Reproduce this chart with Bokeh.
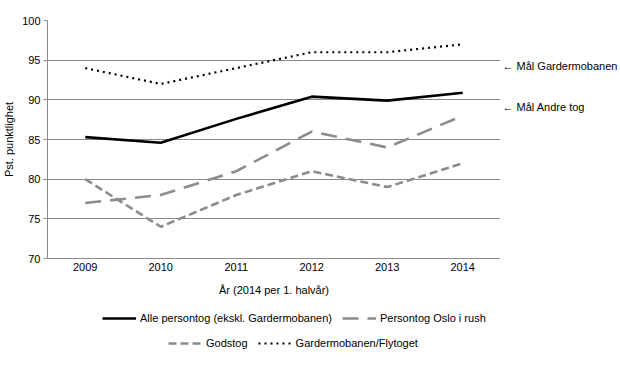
from bokeh.plotting import figure
from bokeh.models import Legend, LegendItem, Label, FixedTicker, Range1d
from bokeh.layouts import column, row
from bokeh.embed import file_html
from bokeh.resources import INLINE

years = ["2009", "2010", "2011", "2012", "2013", "2014"]
alle = [85.3, 84.6, 87.6, 90.4, 89.9, 90.9]
oslo_rush = [77, 78, 81, 86, 84, 88]
godstog = [80, 74, 78, 81, 79, 82]
gardermo = [94, 92, 94, 96, 96, 97]
y_ticks = [70, 75, 80, 85, 90, 95, 100]
series = [
    ("Alle persontog (ekskl. Gardermobanen)", alle, dict(line_color="black", line_width=2.6)),
    ("Persontog Oslo i rush", oslo_rush, dict(line_color="#8c8c8c", line_width=2.6, line_dash="16 9")),
    ("Godstog", godstog, dict(line_color="#8c8c8c", line_width=2.6, line_dash="8 4")),
    ("Gardermobanen/Flytoget", gardermo, dict(line_color="black", line_width=2.2, line_dash="2 4")),
]
targets = [("← Mål Gardermobanen", 94.3), ("← Mål Andre tog", 89.1)]

FONT = "Liberation Sans"
MAIN_H = 300
MAIN_W = 500
RIGHT_W = 118

yr = Range1d(70, 100)
p = figure(x_range=years, y_range=yr, width=MAIN_W, height=MAIN_H,
           output_backend="svg", toolbar_location=None,
           min_border_left=42, min_border_right=0, min_border_top=20, min_border_bottom=42)
p.outline_line_color = None
for name, vals, st in series:
    p.line(years, vals, **st)

p.xgrid.grid_line_color = None
p.ygrid.grid_line_color = "#8a8a8a"
p.ygrid.grid_line_width = 1
p.yaxis.ticker = FixedTicker(ticks=y_ticks)
p.yaxis.minor_tick_line_color = None
p.yaxis.major_tick_out = 4
p.yaxis.major_tick_in = 0
p.yaxis.axis_line_color = "#8a8a8a"
p.yaxis.major_tick_line_color = "#8a8a8a"
p.yaxis.axis_label = "Pst. punktlighet"
p.xaxis.axis_label = "År (2014 per 1. halvår)"
p.xaxis.axis_line_color = "#8a8a8a"
p.xaxis.major_tick_line_color = None
p.xaxis.major_tick_out = 0
p.xaxis.major_tick_in = 0
p.xaxis.major_label_standoff = 4
p.xaxis.axis_label_standoff = 10
p.yaxis.major_label_standoff = 3
p.yaxis.axis_label_standoff = 4
for ax in (p.xaxis[0], p.yaxis[0]):
    ax.major_label_text_font = FONT
    ax.major_label_text_font_size = "11px"
    ax.major_label_text_color = "black"
    ax.axis_label_text_font = FONT
    ax.axis_label_text_font_size = "11px"
    ax.axis_label_text_font_style = "normal"
    ax.axis_label_text_color = "black"

# right-hand panel with target notes, sharing the y range
q = figure(x_range=Range1d(0, RIGHT_W), y_range=yr, width=RIGHT_W, height=MAIN_H,
           output_backend="svg", toolbar_location=None,
           min_border_left=0, min_border_right=0, min_border_top=20, min_border_bottom=42)
q.outline_line_color = None
q.axis.visible = False
q.grid.grid_line_color = None
for txt, yv in targets:
    q.add_layout(Label(x=2, y=yv, text=txt, text_font=FONT, text_font_size="11px",
                       text_color="black", text_baseline="middle", text_align="left"))

# legend panel
lf = figure(x_range=years, y_range=Range1d(0, 1), width=MAIN_W + RIGHT_W, height=49,
            output_backend="svg", toolbar_location=None,
            min_border_left=0, min_border_right=0, min_border_top=0, min_border_bottom=0)
lf.outline_line_color = None
lf.axis.visible = False
lf.grid.grid_line_color = None
items = []
for name, vals, st in series:
    r = lf.line(years, vals, **st)
    items.append(LegendItem(label=name, renderers=[r]))

def mk_legend(its, loc):
    return Legend(items=its, orientation="horizontal", location=loc,
                  label_text_font=FONT, label_text_font_size="11px", label_text_color="black",
                  glyph_width=34, glyph_height=10, spacing=10, padding=2, margin=0,
                  label_standoff=4, border_line_color=None, background_fill_alpha=0)

lf.add_layout(mk_legend(items[:2], (102, 25)), "center")
lf.add_layout(mk_legend(items[2:], (168, 0)), "center")

layout = column(row(p, q), lf)
open("out.html", "w").write(file_html(layout, INLINE))
